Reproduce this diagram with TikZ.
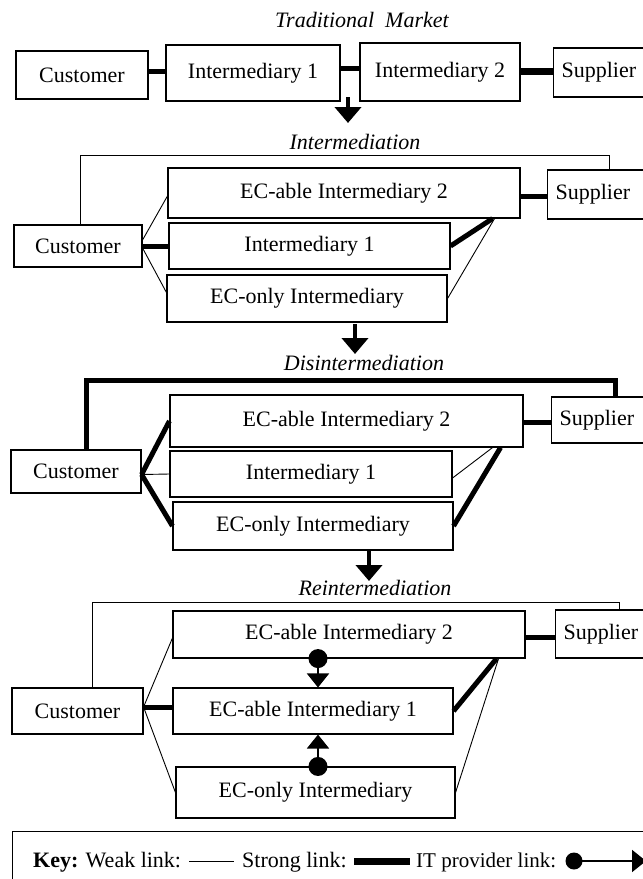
\documentclass[tikz,border=0pt]{standalone}
\usepackage{fontspec}
\setmainfont{Liberation Serif}
\usetikzlibrary{arrows.meta}
\begin{document}
\begin{tikzpicture}[x=1pt,y=-1pt,
  every node/.style={font=\fontsize{22}{26}\selectfont},
  box/.style 2 args={draw, line width=1.1pt, inner sep=0pt, minimum width=#1, minimum height=#2},
  suppbox/.style={draw, line width=1.1pt, inner xsep=8pt, inner ysep=0pt, text width=84pt, align=left, minimum height=#1, anchor=west},
  stage/.style={font=\itshape\fontsize{22}{26}\selectfont, inner sep=0pt},
  weak/.style={line width=0.9pt},
  strong/.style={line width=5pt},
  stagearrow/.style={line width=4.5pt, -{Triangle[width=26pt,length=16pt]}},
  itlink/.style={line width=2pt, -{Triangle[width=22pt,length=14pt]}},
  keytext/.style={anchor=base west, inner sep=0pt},
]
\useasboundingbox (0,0) rectangle (643,879);

% ---------- Traditional market ----------
\node[stage] (t1) at (362,20) {Traditional\ \ Market};
\node[box={132}{48}] (c1) at (82,75) {Customer};
\node[box={174}{56}] (m1) at (253,73) {Intermediary 1};
\node[box={160}{58}] (n1) at (440,72) {Intermediary 2};
\node[suppbox=49] (s1) at (553,72.5) {Supplier};
\draw[strong] ([yshift=4]c1.east) -- ([yshift=4]c1.east -| m1.west);
\draw[strong] ([yshift=5]m1.east) -- ([yshift=5]m1.east -| n1.west);
\draw[line width=7pt] ([yshift=1]n1.east) -- ([yshift=1]n1.east -| s1.west);
\coordinate (a1) at (348,97);
\coordinate (b1) at (348,123);
\draw[stagearrow] (a1) -- (b1);

% ---------- Intermediation ----------
\node[stage] (t2) at (355,142) {Intermediation};
\node[box={128}{42}] (c2) at (78,246) {Customer};
\node[box={352}{50}] (e2) at (344,193) {EC-able Intermediary 2};
\node[box={281}{46}] (i2) at (309.5,246) {Intermediary 1};
\node[box={280}{47}] (o2) at (307,298.5) {EC-only Intermediary};
\node[suppbox=49] (s2) at (547,194.5) {Supplier};
\coordinate (k2) at (609,155);
\draw[weak] ([xshift=2]c2.north) |- (k2) -- (k2 |- s2.north);
\draw[weak] ([yshift=6]c2.east) -- ([yshift=-3]e2.west);
\draw[strong] (c2.east) -- (c2.east -| i2.west);
\draw[weak] ([yshift=-2]c2.east) -- ([yshift=6]o2.west);
\draw[strong] (i2.east) -- ([xshift=-28]e2.south east);
\draw[weak] (o2.east) -- ([xshift=-26]e2.south east);
\draw[strong] ([yshift=-3]e2.east) -- ([yshift=-3]e2.east -| s2.west);
\coordinate (a2) at (355,324);
\coordinate (b2) at (355,354);
\draw[stagearrow] (a2) -- (b2);

% ---------- Disintermediation ----------
\node[stage] (t3) at (364,363) {Disintermediation};
\node[box={130}{43}] (c3) at (76,471.5) {Customer};
\node[box={353}{52}] (e3) at (346.5,421) {EC-able Intermediary 2};
\node[box={282}{46}] (i3) at (311,474) {Intermediary 1};
\node[box={280}{48}] (o3) at (313,526) {EC-only Intermediary};
\node[suppbox=46] (s3) at (551,420) {Supplier};
\coordinate (k3) at (615,380);
\draw[strong] ([xshift=10]c3.north) |- (k3) -- (k3 |- s3.north);
\draw[strong] ([yshift=-3]c3.east) -- (e3.west);
\draw[weak] ([yshift=-3]c3.east) -- (i3.west);
\draw[strong] ([yshift=-3]c3.east) -- (o3.west);
\draw[weak] ([yshift=-4]i3.east) -- ([xshift=-31]e3.south east);
\draw[strong] (o3.east) -- ([xshift=-23]e3.south east);
\draw[strong] ([yshift=-1]e3.east) -- ([yshift=-1]e3.east -| s3.west);
\coordinate (a3) at (369,551);
\coordinate (b3) at (369,581);
\draw[stagearrow] (a3) -- (b3);

% ---------- Reintermediation ----------
\node[stage] (t4) at (375,588) {Reintermediation};
\node[box={131}{46}] (c4) at (77.5,711) {Customer};
\node[box={352}{47}] (e4) at (349,634.5) {EC-able Intermediary 2};
\node[box={280}{46}] (i4) at (313,711) {EC-able Intermediary 1};
\node[box={279}{51}] (o4) at (315.5,792.5) {EC-only Intermediary};
\node[suppbox=48] (s4) at (555,634) {Supplier};
\coordinate (k4) at (619,602);
\draw[weak] ([xshift=14.5]c4.north) |- (k4) -- (k4 |- s4.north);
\draw[weak] ([yshift=4]c4.east) -- ([yshift=-3.5]e4.west);
\draw[strong] ([yshift=4]c4.east) -- ([yshift=4]c4.east -| i4.west);
\draw[weak] ([yshift=4]c4.east) -- (o4.west);
\draw[strong] (i4.east) -- ([xshift=-29]e4.south east);
\draw[weak] (o4.east) -- ([xshift=-27]e4.south east);
\draw[strong] ([yshift=-2.5]e4.east) -- ([yshift=-2.5]e4.east -| s4.west);
\coordinate (d1) at ([xshift=-31]e4.south);
\coordinate (d2) at (d1 |- o4.north);
\fill (d1) circle (9.5);
\fill (d2) circle (9.5);
\draw[itlink] (d1) -- (d1 |- i4.north);
\draw[itlink] (d2) -- (d2 |- i4.south);

% ---------- Key ----------
\node[draw, line width=1.1pt, anchor=north west, minimum width=660, minimum height=55, inner sep=0pt] (key) at (12,831) {};
\node[keytext] (kw) at (33,867) {\textbf{Key:} Weak link:};
\coordinate (w1) at (189,861);
\coordinate (w2) at (234,861);
\draw[weak] (w1) -- (w2);
\node[keytext] (ks) at (242,867) {Strong link:};
\coordinate (g1) at (354,861);
\coordinate (g2) at (410,861);
\draw[line width=7pt] (g1) -- (g2);
\node[keytext, font=\fontsize{21}{25}\selectfont] (ki) at (416,867) {IT provider link:};
\coordinate (p1) at (574,861);
\coordinate (p2) at (646,861);
\fill (p1) circle (8.5);
\draw[itlink] (p1) -- (p2);
\end{tikzpicture}
\end{document}
